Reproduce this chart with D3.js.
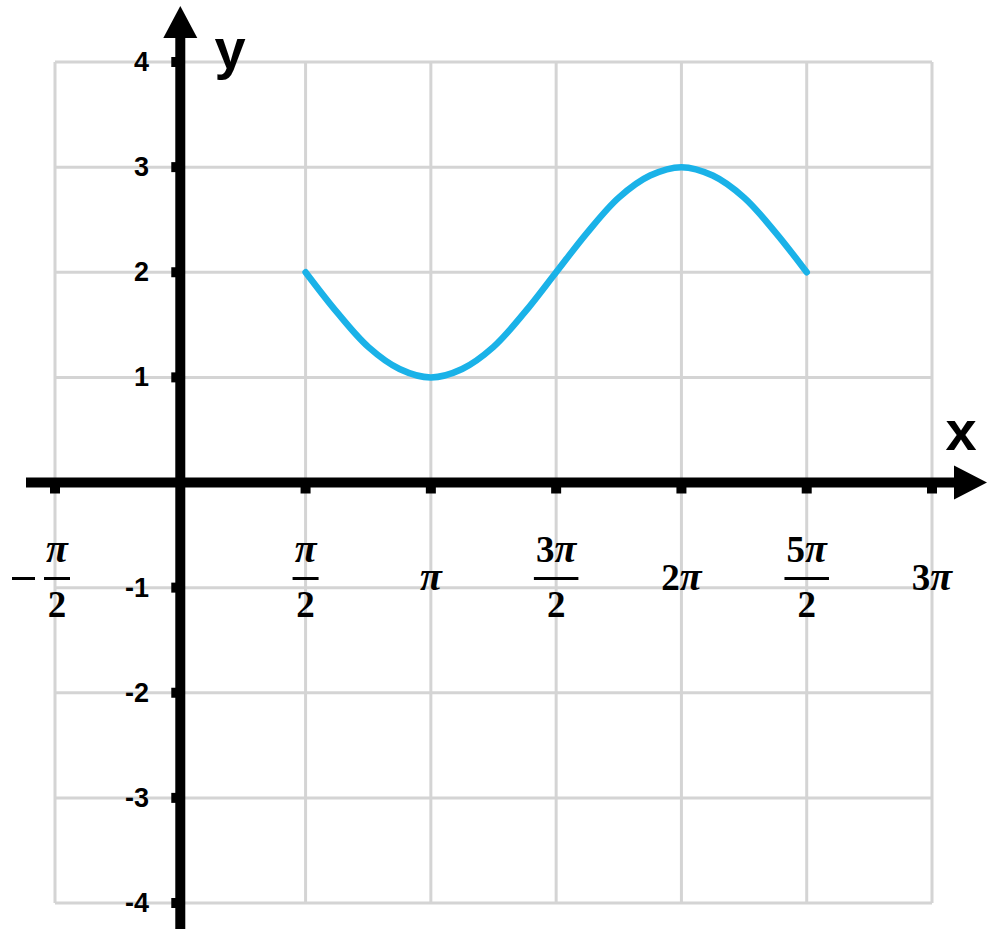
<!DOCTYPE html>
<html><head><meta charset="utf-8">
<script src="https://cdn.jsdelivr.net/npm/d3@7"></script>
<style>html,body{margin:0;padding:0;background:#fff;}</style>
</head><body>
<svg id="c" width="1000" height="946"></svg>
<script>
// x values are in units of π
const xTicks = [-0.5, 0, 0.5, 1, 1.5, 2, 2.5, 3];
const xTickLabels = [
  {v:-0.5, neg:true, num:"", den:"2"},
  {v:0.5, num:"", den:"2"},
  {v:1, whole:""},
  {v:1.5, num:"3", den:"2"},
  {v:2, whole:"2"},
  {v:2.5, num:"5", den:"2"},
  {v:3, whole:"3"}
];
const yTicks = [-4, -3, -2, -1, 0, 1, 2, 3, 4];
const yTickLabels = [-4, -3, -2, -1, 1, 2, 3, 4];
const curveX = [0.5,0.625,0.75,0.875,1,1.125,1.25,1.375,1.5,1.625,1.75,1.875,2,2.125,2.25,2.375,2.5];
const curveY = [2,1.62,1.29,1.08,1,1.08,1.29,1.62,2,2.38,2.71,2.92,3,2.92,2.71,2.38,2];

const svg = d3.select("#c");
const x = d3.scaleLinear().domain([-0.5, 3]).range([55, 932]);
const y = d3.scaleLinear().domain([-4, 4]).range([903, 62]);
const grid = "#d4d4d4";

// grid
svg.append("g").selectAll("line").data(xTicks).join("line")
  .attr("x1", d => x(d)).attr("x2", d => x(d))
  .attr("y1", y(4)).attr("y2", y(-4))
  .attr("stroke", grid).attr("stroke-width", 3);
svg.append("g").selectAll("line").data(yTicks).join("line")
  .attr("x1", x(-0.5)).attr("x2", x(3))
  .attr("y1", d => y(d)).attr("y2", d => y(d))
  .attr("stroke", grid).attr("stroke-width", 3);

// curve
const line = d3.line().x(d => x(d[0])).y(d => y(d[1])).curve(d3.curveCatmullRom);
svg.append("path").datum(curveX.map((v,i)=>[v,curveY[i]]))
  .attr("d", line).attr("fill","none").attr("stroke","#1ab2e8")
  .attr("stroke-width", 6.5).attr("stroke-linecap","round");

// axes
const x0 = x(0), y0 = y(0);
svg.append("line").attr("x1", 26).attr("x2", 960).attr("y1", y0).attr("y2", y0)
  .attr("stroke","#000").attr("stroke-width",10);
svg.append("path").attr("d", `M954,${y0-17}L987,${y0}L954,${y0+17}Z`).attr("fill","#000");
svg.append("line").attr("x1", x0).attr("x2", x0).attr("y1", 929).attr("y2", 30)
  .attr("stroke","#000").attr("stroke-width",10);
svg.append("path").attr("d", `M${x0-17},38L${x0},6L${x0+17},38Z`).attr("fill","#000");

// tick marks
svg.append("g").selectAll("rect").data(xTicks.filter(d=>d!==0)).join("rect")
  .attr("x", d => x(d)-5).attr("y", y0+4).attr("width",10).attr("height",7).attr("fill","#000");
svg.append("g").selectAll("rect").data(yTicks.filter(d=>d!==0)).join("rect")
  .attr("x", x0-9).attr("y", d => y(d)-5).attr("width",6).attr("height",10).attr("fill","#000");

// y tick labels
svg.append("g").selectAll("text").data(yTickLabels).join("text")
  .attr("x", 149).attr("y", d => y(d)+9).attr("text-anchor","end")
  .attr("font-family","Liberation Sans, Arial, sans-serif").attr("font-weight","bold")
  .attr("font-size", 27).text(d => d);

// axis names
svg.append("text").attr("x", 230).attr("y", 68).attr("text-anchor","middle")
  .attr("font-family","Liberation Sans, Arial, sans-serif").attr("font-weight","bold")
  .attr("font-size", 56).text("y");
svg.append("text").attr("x", 961).attr("y", 450).attr("text-anchor","middle")
  .attr("font-family","Liberation Sans, Arial, sans-serif").attr("font-weight","bold")
  .attr("font-size", 56).text("x");

// x tick labels
const lf = "Liberation Serif, DejaVu Serif, serif";
const xl = svg.append("g").attr("font-family", lf).attr("font-weight","bold").attr("font-size",37);
function piText(sel, digit){
  if (digit) sel.append("tspan").text(digit);
  sel.append("tspan").attr("font-style","italic").attr("font-size",40).text("π");
}
xTickLabels.forEach(t => {
  const cx = x(t.v) + (t.neg ? 2 : 0);
  if (t.whole !== undefined) {
    const tx = xl.append("text").attr("x", x(t.v)).attr("y", 590).attr("text-anchor","middle");
    piText(tx, t.whole);
  } else {
    const tx = xl.append("text").attr("x", cx).attr("y", 562).attr("text-anchor","middle");
    piText(tx, t.num);
    const w = tx.node().getBBox().width + 3;
    xl.append("rect").attr("x", cx-w/2).attr("y", 577).attr("width", w).attr("height", 3).attr("fill","#000");
    xl.append("text").attr("x", cx).attr("y", 617).attr("text-anchor","middle").text(t.den);
    if (t.neg) {
      xl.append("rect").attr("x", 12).attr("y", 577).attr("width", 23).attr("height", 3).attr("fill","#000");
    }
  }
});
</script>
</body></html>
